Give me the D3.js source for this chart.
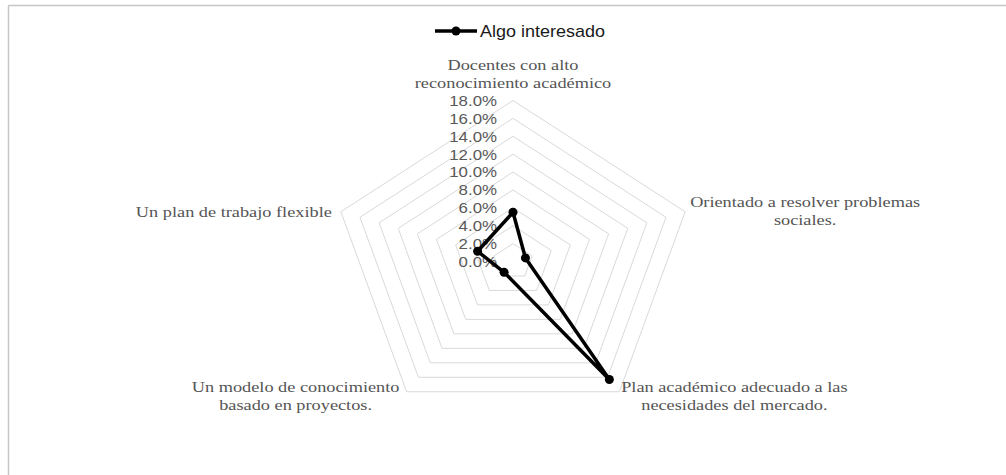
<!DOCTYPE html>
<html>
<head>
<meta charset="utf-8">
<script src="https://cdn.jsdelivr.net/npm/d3@7"></script>
<style>
  html, body { margin: 0; padding: 0; background: #fff; }
  svg { display: block; }
</style>
</head>
<body>
<svg id="chart" width="1006" height="475"></svg>
<script>
// Radar chart: interest level per program attribute
const categories = [
  ["Docentes con alto", "reconocimiento académico"],
  ["Orientado a resolver problemas", "sociales."],
  ["Plan académico adecuado a las", "necesidades del mercado."],
  ["Un modelo de conocimiento", "basado en proyectos."],
  ["Un plan de trabajo flexible"]
];
const seriesName = "Algo interesado";
const values = [5.5, 1.3, 16.3, 1.5, 3.7];
const tickValues = [0, 2, 4, 6, 8, 10, 12, 14, 16, 18];

const W = 1006, H = 475;
const cx = 513, cy = 261.5;
const Rx = 181, Ry = 161;      // plot is wider than tall
const sx = Rx / Ry;            // horizontal stretch applied to text as well

const svg = d3.select("#chart");

// chart frame (top and left edges)
svg.append("line").attr("x1", 8.5).attr("y1", 5.5).attr("x2", W).attr("y2", 5.5)
  .attr("stroke", "#c6c6c6").attr("stroke-width", 1.5);
svg.append("line").attr("x1", 8.5).attr("y1", 5.5).attr("x2", 8.5).attr("y2", H)
  .attr("stroke", "#c6c6c6").attr("stroke-width", 1.5);

const r = d3.scaleLinear().domain([0, 18]).range([0, 1]);
const angle = d3.scaleLinear().domain([0, categories.length]).range([0, 2 * Math.PI]);

function pt(i, v) {
  const a = angle(i);
  return [cx + r(v) * Rx * Math.sin(a), cy - r(v) * Ry * Math.cos(a)];
}

const idx = d3.range(categories.length);
const ringLine = d3.line().curve(d3.curveLinearClosed);

// grid rings
svg.append("g").selectAll("path").data(tickValues.filter(t => t > 0)).join("path")
  .attr("d", t => ringLine(idx.map(i => pt(i, t))))
  .attr("fill", "none").attr("stroke", "#d9d9d9").attr("stroke-width", 1);

// tick labels along the top axis
const fmt = d3.format(".1f");
svg.append("g").selectAll("text").data(tickValues).join("text")
  .attr("transform", t => `translate(${cx - 16},${pt(0, t)[1]}) scale(${sx},1)`)
  .attr("text-anchor", "end").attr("dy", "0.36em")
  .attr("font-family", "Liberation Sans, Arial, sans-serif").attr("font-size", 15)
  .attr("fill", "#595959")
  .text(t => fmt(t) + "%");

// category labels: [anchor, dx, dy] offsets from the outer vertex
const labelPlace = [
  ["middle", 0, -36],
  ["middle", 120, -10],
  ["middle", 115, -5],
  ["middle", -111, -5],
  ["end", -9, 0]
];
const catG = svg.append("g")
  .attr("font-family", "Liberation Serif, Times New Roman, serif")
  .attr("font-size", 15).attr("fill", "#555");
categories.forEach((lines, i) => {
  const [x, y] = pt(i, 18);
  const [anchor, dx, dy] = labelPlace[i];
  const t = catG.append("text")
    .attr("transform", `translate(${x + dx},${y + dy}) scale(${sx * 1.085},1)`)
    .attr("text-anchor", anchor);
  lines.forEach((s, k) => {
    t.append("tspan").attr("x", 0).attr("y", k * 18.5).attr("dy", "0.35em").text(s);
  });
});

// data series
const seriesPts = values.map((v, i) => pt(i, v));
svg.append("path")
  .attr("d", ringLine(seriesPts))
  .attr("fill", "none").attr("stroke", "#000").attr("stroke-width", 3.5)
  .attr("stroke-linejoin", "round");
svg.append("g").selectAll("circle").data(seriesPts).join("circle")
  .attr("cx", d => d[0]).attr("cy", d => d[1]).attr("r", 4.5).attr("fill", "#000");

// legend
const lg = svg.append("g");
lg.append("line").attr("x1", 435).attr("x2", 477).attr("y1", 31).attr("y2", 31)
  .attr("stroke", "#000").attr("stroke-width", 3.5);
lg.append("circle").attr("cx", 456).attr("cy", 31).attr("r", 4.5).attr("fill", "#000");
lg.append("text")
  .attr("transform", `translate(480,31) scale(${sx},1)`)
  .attr("dy", "0.36em")
  .attr("font-family", "Liberation Sans, Arial, sans-serif").attr("font-size", 16)
  .attr("fill", "#1a1a1a")
  .text(seriesName);
</script>
</body>
</html>
